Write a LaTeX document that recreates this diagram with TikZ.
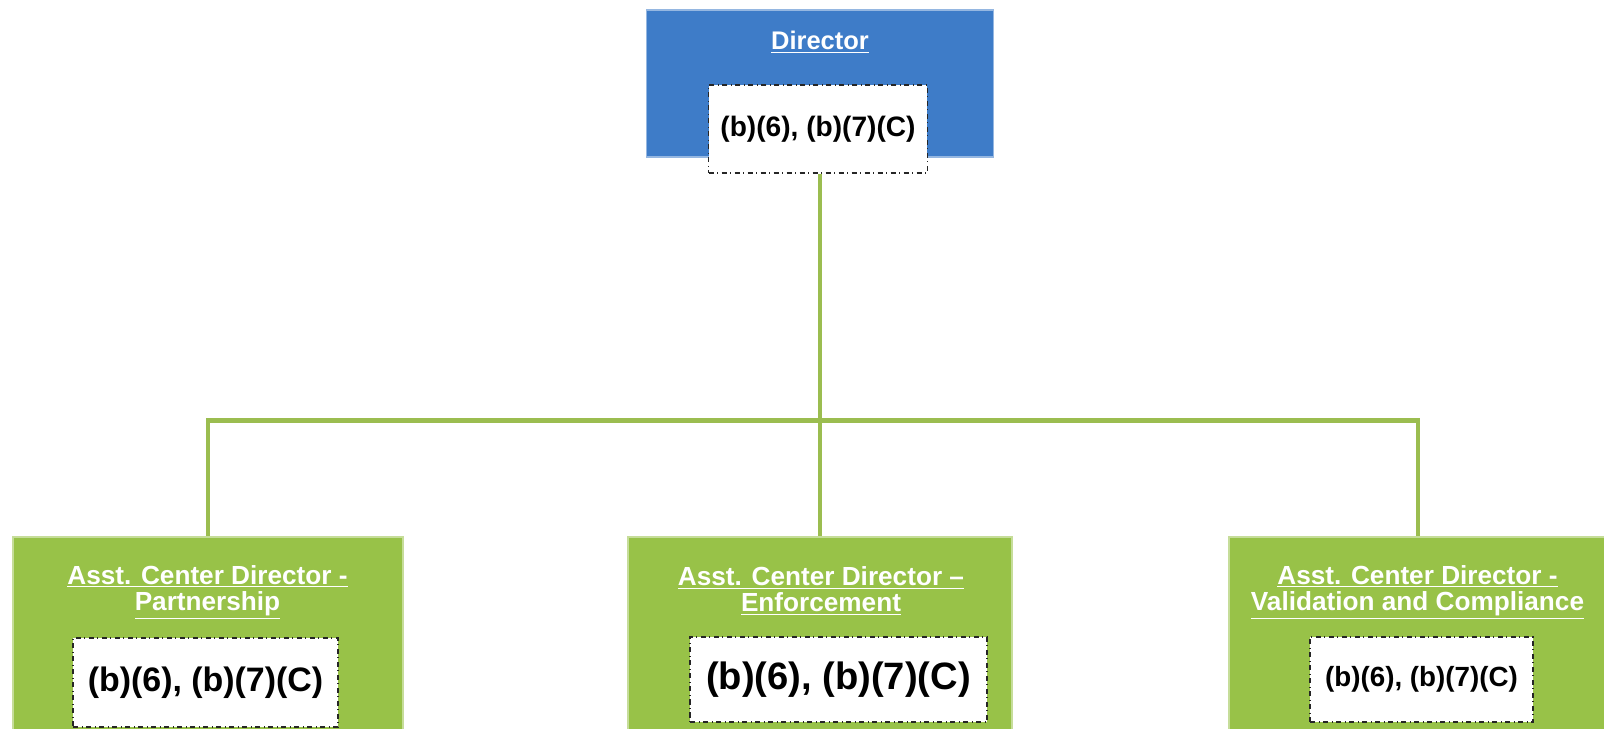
\documentclass[tikz,border=0pt]{standalone}
\usepackage{fontspec}
\setmainfont{Liberation Sans}
\usepackage{tikz}
\usetikzlibrary{positioning,calc}
\definecolor{dirblue}{RGB}{62,124,200}
\definecolor{acdgreen}{RGB}{152,194,72}
\definecolor{linkgreen}{RGB}{155,189,80}
\tikzset{boss/.style={rectangle, fill=dirblue, draw=dirblue!55!white, line width=0.8pt},
         unit/.style={rectangle, fill=acdgreen, draw=acdgreen!55!white, line width=0.8pt},
         redact/.style={rectangle, fill=white, draw=black!85, dash dot, line width=0.7pt},
         head/.style={text=white, font=\bfseries\fontsize{14.9}{14.8}\selectfont, align=center, inner sep=0pt},
         link/.style={draw=linkgreen, line width=2.8pt}
}

\begin{document}
\begin{tikzpicture}[x=0.02cm,y=-0.02cm]
    \useasboundingbox (0,0) rectangle (1604,729);
    \clip (0,0) rectangle (1604,729);
            %              Director
            %
            %   Partner     Enforce     Valid
        \node[boss, minimum width=6.94cm, minimum height=2.94cm] (dir) at (820,83.5) {};
        \node[head, font=\bfseries\fontsize{14.5}{16}\selectfont] (dirT) at (820,42) {\underline{Director}};
        \node[redact, minimum width=4.38cm, minimum height=1.76cm, font=\bfseries\fontsize{16}{18}\selectfont] (dirR) at (818,129) {(b)(6), (b)(7)(C)};

        \node[unit, minimum width=7.8cm, minimum height=4.46cm] (partner) at (208,648.5) {};
        \node[unit, minimum width=7.68cm, minimum height=4.46cm] (enforce) at (820,648.5) {};
        \node[unit, minimum width=7.56cm, minimum height=4.46cm] (valid) at (1418,648.5) {};

        \node[head] (partnerT) at (207.5,592) {\underline{Asst. Center Director -}\\\underline{Partnership}};
        \node[head] (enforceT) at (821,591) {\underline{Asst. Center Director –}\\\underline{Enforcement}};
        \node[head] (validT) at (1417.5,592) {\underline{Asst. Center Director -}\\\underline{Validation and Compliance}};

        \node[redact, minimum width=5.3cm, minimum height=1.78cm, font=\bfseries\fontsize{19.3}{22}\selectfont] (partnerR) at (205.5,682.5) {(b)(6), (b)(7)(C)};
        \node[redact, minimum width=5.94cm, minimum height=1.7cm, font=\bfseries\fontsize{21.7}{24}\selectfont] (enforceR) at (838.5,679.5) {(b)(6), (b)(7)(C)};
        \node[redact, minimum width=4.46cm, minimum height=1.7cm, font=\bfseries\fontsize{15.8}{18}\selectfont] (validR) at (1421.5,679.5) {(b)(6), (b)(7)(C)};

        \coordinate (bus) at (820,420.5);
        \path[link] (dirR.south -| dir.center) -- (bus)
              (bus) -| (partner.north)
              (bus) -| (enforce.north)
              (bus) -| (valid.north);
\end{tikzpicture}
\end{document}
